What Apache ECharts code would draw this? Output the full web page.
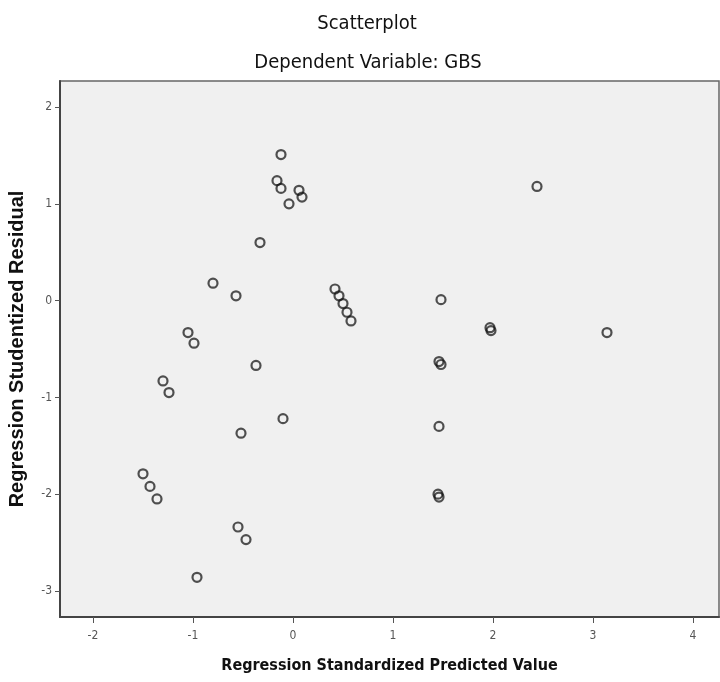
<!DOCTYPE html>
<html>
<head>
<meta charset="utf-8">
<script src="https://cdn.jsdelivr.net/npm/echarts@6/dist/echarts.min.js"></script>
<style>
  html, body { margin: 0; padding: 0; background: #ffffff; }
  #chart { width: 720px; height: 682px; }
</style>
</head>
<body>
<div id="chart"></div>
<script>
// Regression standardized predicted values (x) and studentized residuals (y)
const predicted = [
  -0.12, -0.16, -0.12, 0.06, 0.09, -0.04, -0.33, -0.80, -0.57,
  0.42, 0.46, 0.50, 0.54, 0.58,
  -1.05, -0.99, -0.37, -1.30, -1.24, -0.10, -0.52,
  -1.50, -1.43, -1.36, -0.55, -0.47, -0.96,
  1.48, 1.46, 1.48, 1.46, 1.45, 1.46,
  1.97, 1.98, 2.44, 3.14
];
const residuals = [
  1.51, 1.24, 1.16, 1.14, 1.07, 1.00, 0.60, 0.18, 0.05,
  0.12, 0.05, -0.03, -0.12, -0.21,
  -0.33, -0.44, -0.67, -0.83, -0.95, -1.22, -1.37,
  -1.79, -1.92, -2.05, -2.34, -2.47, -2.86,
  0.01, -0.63, -0.66, -1.30, -2.00, -2.03,
  -0.28, -0.31, 1.18, -0.33
];
const xTicks = [-2, -1, 0, 1, 2, 3, 4];
const yTicks = [-3, -2, -1, 0, 1, 2];

const points = predicted.map((v, i) => [v, residuals[i]]);

const condensed = "'DejaVu Sans Condensed', 'Liberation Sans Narrow', 'Liberation Sans', Arial, sans-serif";
const plain = "'Liberation Sans', Arial, sans-serif";
const chart = echarts.init(document.getElementById('chart'), null, { renderer: 'canvas' });

chart.setOption({
  backgroundColor: '#ffffff',
  animation: false,
  title: [
    { text: 'Scatterplot', left: 362, top: 9, textAlign: 'center',
      textStyle: { fontFamily: condensed, fontSize: 20, fontWeight: 'normal', color: '#111' } },
    { text: 'Dependent Variable: GBS', left: 363, top: 48, textAlign: 'center',
      textStyle: { fontFamily: condensed, fontSize: 20, fontWeight: 'normal', color: '#111' } }
  ],
  grid: {
    left: 60, top: 81, right: 1, bottom: 65,
    outerBoundsMode: 'none', containLabel: false,
    show: true, backgroundColor: '#f0f0f0', borderColor: '#666', borderWidth: 1.5
  },
  xAxis: {
    type: 'value', min: -2.33, max: 4.26,
    name: 'Regression Standardized Predicted Value',
    nameLocation: 'middle', nameGap: 41,
    nameTextStyle: { fontFamily: condensed, fontSize: 16, fontWeight: 'bold', color: '#111' },
    splitLine: { show: false },
    axisLine: { show: true, onZero: false, lineStyle: { color: '#444', width: 2 } },
    axisTick: { show: true, length: 6, customValues: xTicks, lineStyle: { color: '#555', width: 1 } },
    axisLabel: { customValues: xTicks, margin: 13, fontFamily: condensed, fontSize: 12, color: '#555' }
  },
  yAxis: {
    type: 'value', min: -3.27, max: 2.27,
    name: 'Regression Studentized Residual',
    nameLocation: 'middle', nameGap: 33, nameRotate: 90,
    nameTextStyle: { fontFamily: plain, fontSize: 20, fontWeight: 'bold', color: '#111' },
    splitLine: { show: false },
    axisLine: { show: true, onZero: false, lineStyle: { color: '#444', width: 2 } },
    axisTick: { show: true, length: 5, customValues: yTicks, lineStyle: { color: '#555', width: 1 } },
    axisLabel: { customValues: yTicks, margin: 8, fontFamily: condensed, fontSize: 12, color: '#555' }
  },
  series: [{
    type: 'scatter',
    data: points,
    symbol: 'circle',
    symbolSize: 9,
    itemStyle: { color: 'rgba(0,0,0,0)', borderColor: 'rgba(15,15,15,0.9)', borderWidth: 2.2 },
    emphasis: { disabled: true }
  }]
});
</script>
</body>
</html>
